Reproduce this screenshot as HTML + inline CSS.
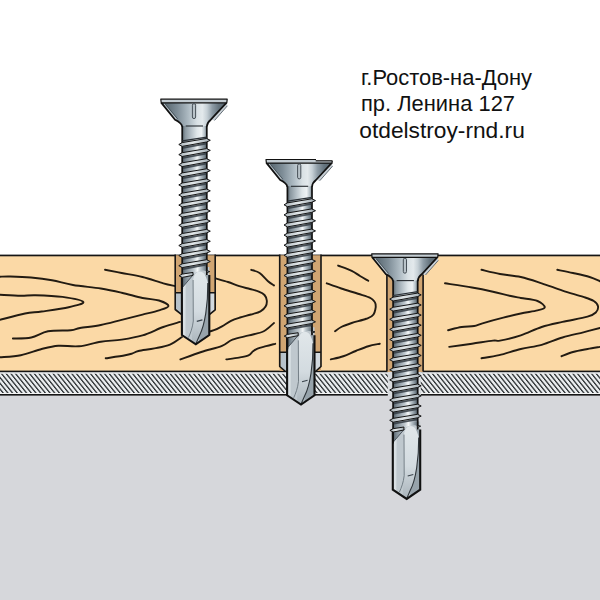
<!DOCTYPE html>
<html><head><meta charset="utf-8"><style>html,body{margin:0;padding:0;background:#fff;overflow:hidden}svg{display:block}</style></head>
<body>
<svg width="600" height="600" viewBox="0 0 600 600">
<defs>
<linearGradient id="core" x1="0" x2="1" y1="0" y2="0">
<stop offset="0" stop-color="#525e67"/><stop offset="0.15" stop-color="#7f8c95"/><stop offset="0.47" stop-color="#c0c9cf"/><stop offset="0.61" stop-color="#f4f7f8"/><stop offset="0.73" stop-color="#bcc6cc"/><stop offset="0.9" stop-color="#78858e"/><stop offset="1" stop-color="#525e67"/>
</linearGradient>
<linearGradient id="shank" x1="0" x2="1" y1="0" y2="0">
<stop offset="0" stop-color="#56636c"/><stop offset="0.12" stop-color="#8a979f"/><stop offset="0.35" stop-color="#b3bec5"/><stop offset="0.6" stop-color="#dfe6e9"/><stop offset="0.78" stop-color="#eef2f4"/><stop offset="0.9" stop-color="#b9c4ca"/><stop offset="1" stop-color="#7c8992"/>
</linearGradient>
<linearGradient id="thr" x1="0" x2="1" y1="0" y2="0">
<stop offset="0" stop-color="#aab4ba"/><stop offset="0.45" stop-color="#e3e8ea"/><stop offset="1" stop-color="#a2adb4"/>
</linearGradient>
<linearGradient id="tongue" x1="0" x2="0" y1="0" y2="1">
<stop offset="0" stop-color="#e1e7ea"/><stop offset="0.55" stop-color="#d3dbe0"/><stop offset="1" stop-color="#aab4bb"/>
</linearGradient>
<linearGradient id="drill" x1="0" x2="1" y1="0" y2="0">
<stop offset="0" stop-color="#b7c1c7"/><stop offset="0.12" stop-color="#d3dadf"/><stop offset="0.3" stop-color="#a7b2b9"/><stop offset="0.55" stop-color="#b9c3c9"/><stop offset="0.85" stop-color="#97a3ab"/><stop offset="1" stop-color="#7d8992"/>
</linearGradient>
<linearGradient id="cone" x1="0" x2="1" y1="0" y2="0">
<stop offset="0" stop-color="#4f5d67"/><stop offset="0.1" stop-color="#617079"/><stop offset="0.25" stop-color="#7f8e98"/><stop offset="0.42" stop-color="#aebbc3"/><stop offset="0.55" stop-color="#d9e1e5"/><stop offset="0.63" stop-color="#e3e9ec"/><stop offset="0.7" stop-color="#c6d0d6"/><stop offset="0.78" stop-color="#8f9da7"/><stop offset="0.88" stop-color="#66757f"/><stop offset="1" stop-color="#56646e"/>
</linearGradient>
<linearGradient id="holegray" x1="0" x2="1" y1="0" y2="0">
<stop offset="0" stop-color="#b5c0c8"/><stop offset="1" stop-color="#d4dbe0"/>
</linearGradient>
<pattern id="hatch" width="4.683" height="10" patternUnits="userSpaceOnUse" patternTransform="translate(2.52,0) skewX(39)">
<rect width="4.683" height="10" fill="#e9ecee"/><rect x="0" width="1.65" height="10" fill="#2b2f32"/>
</pattern>
<g id="screw">
<path d="M-12.1 168 L-12.1 236 L1.8 245.3 L15.3 236 L15.3 168 Z" fill="#bfc8ce"/>
<path d="M-11.5 186 L-8.3 182.5 L-8.6 238.6 L-11.5 236.5 Z" fill="#d8dfe3"/>
<path d="M11 176 L15.3 176 L15.3 236 L5 242.8 Z" fill="#97a3ab"/>
<path d="M-0.9 224 C-1 205 -1.2 190 -0.9 182 C-0.6 176 2.3 172.4 5.6 172.4 C9.5 172.4 12.2 176 13.8 184 C14 205 11 226 5.5 236.5 L1.8 245 L-1.5 243 C-3 238 -1 232 -0.9 224 Z" fill="url(#tongue)"/>
<path d="M-12.1 168 L13.5 168 L13.5 173 C10 171 7.5 171.5 5.6 172.4 C2.3 172.4 0.5 174 -0.5 176 L-12.1 189 Z" fill="url(#core)"/>
<path d="M-11.5 188.4 L-0.6 175.5" fill="none" stroke="#4b555d" stroke-width="1"/>
<path d="M13.8 184 C14 205 11 226 5.5 236.5 L1.8 245" fill="none" stroke="#2e353a" stroke-width="1.1"/>
<path d="M-0.9 181 L-0.7 222 C-1.5 229 -3.5 234 -5.5 238.5" fill="none" stroke="#6a757d" stroke-width="0.9"/>
<path d="M2.8 222.4 L8.4 220.9" stroke="#39424a" stroke-width="1.1"/>
<path d="M-12.1 176 L-12.1 236 L1.8 245.3 L15.3 236 L15.3 176" fill="none" stroke="#111" stroke-width="2.1" stroke-linejoin="miter"/>
<path d="M-11.8 22 L12.8 22 L12.8 168 L-11.8 168 Z" fill="url(#core)"/>
<path d="M-11.8 22 L12.8 22 L12.8 38.3 L-11.8 41.7 Z" fill="url(#shank)"/>
<path d="M-11.8 22 L-11.8 190 M12.8 22 L12.8 176" stroke="#111" stroke-width="1.7"/>
<path d="M-11 48.8 L12.3 44.5" stroke="#333b42" stroke-width="1.8" opacity="0.85"/>
<path d="M-15.2 45.5 L-11.8 43.6 L12.6 39.5 L16.3 41.3 L12.6 43 L-11.8 47.4 Z" fill="url(#thr)" stroke="#151515" stroke-width="1" stroke-linejoin="round"/>
<path d="M-11 58.9 L12.3 54.6" stroke="#333b42" stroke-width="1.8" opacity="0.85"/>
<path d="M-15.2 55.6 L-11.8 53.7 L12.6 49.6 L16.3 51.4 L12.6 53.1 L-11.8 57.5 Z" fill="url(#thr)" stroke="#151515" stroke-width="1" stroke-linejoin="round"/>
<path d="M-11 69 L12.3 64.7" stroke="#333b42" stroke-width="1.8" opacity="0.85"/>
<path d="M-15.2 65.7 L-11.8 63.8 L12.6 59.7 L16.3 61.5 L12.6 63.2 L-11.8 67.6 Z" fill="url(#thr)" stroke="#151515" stroke-width="1" stroke-linejoin="round"/>
<path d="M-11 79.1 L12.3 74.8" stroke="#333b42" stroke-width="1.8" opacity="0.85"/>
<path d="M-15.2 75.8 L-11.8 73.9 L12.6 69.8 L16.3 71.6 L12.6 73.3 L-11.8 77.7 Z" fill="url(#thr)" stroke="#151515" stroke-width="1" stroke-linejoin="round"/>
<path d="M-11 89.2 L12.3 84.9" stroke="#333b42" stroke-width="1.8" opacity="0.85"/>
<path d="M-15.2 85.9 L-11.8 84 L12.6 79.9 L16.3 81.7 L12.6 83.4 L-11.8 87.8 Z" fill="url(#thr)" stroke="#151515" stroke-width="1" stroke-linejoin="round"/>
<path d="M-11 99.3 L12.3 95" stroke="#333b42" stroke-width="1.8" opacity="0.85"/>
<path d="M-15.2 96 L-11.8 94.1 L12.6 90 L16.3 91.8 L12.6 93.5 L-11.8 97.9 Z" fill="url(#thr)" stroke="#151515" stroke-width="1" stroke-linejoin="round"/>
<path d="M-11 109.4 L12.3 105.1" stroke="#333b42" stroke-width="1.8" opacity="0.85"/>
<path d="M-15.2 106.1 L-11.8 104.2 L12.6 100.1 L16.3 101.9 L12.6 103.6 L-11.8 108 Z" fill="url(#thr)" stroke="#151515" stroke-width="1" stroke-linejoin="round"/>
<path d="M-11 119.5 L12.3 115.2" stroke="#333b42" stroke-width="1.8" opacity="0.85"/>
<path d="M-15.2 116.2 L-11.8 114.3 L12.6 110.2 L16.3 112 L12.6 113.7 L-11.8 118.1 Z" fill="url(#thr)" stroke="#151515" stroke-width="1" stroke-linejoin="round"/>
<path d="M-11 129.6 L12.3 125.3" stroke="#333b42" stroke-width="1.8" opacity="0.85"/>
<path d="M-15.2 126.3 L-11.8 124.4 L12.6 120.3 L16.3 122.1 L12.6 123.8 L-11.8 128.2 Z" fill="url(#thr)" stroke="#151515" stroke-width="1" stroke-linejoin="round"/>
<path d="M-11 139.7 L12.3 135.4" stroke="#333b42" stroke-width="1.8" opacity="0.85"/>
<path d="M-15.2 136.4 L-11.8 134.5 L12.6 130.4 L16.3 132.2 L12.6 133.9 L-11.8 138.3 Z" fill="url(#thr)" stroke="#151515" stroke-width="1" stroke-linejoin="round"/>
<path d="M-11 149.8 L12.3 145.5" stroke="#333b42" stroke-width="1.8" opacity="0.85"/>
<path d="M-15.2 146.5 L-11.8 144.6 L12.6 140.5 L16.3 142.3 L12.6 144 L-11.8 148.4 Z" fill="url(#thr)" stroke="#151515" stroke-width="1" stroke-linejoin="round"/>
<path d="M-11 159.9 L12.3 155.6" stroke="#333b42" stroke-width="1.8" opacity="0.85"/>
<path d="M-15.2 156.6 L-11.8 154.7 L12.6 150.6 L16.3 152.4 L12.6 154.1 L-11.8 158.5 Z" fill="url(#thr)" stroke="#151515" stroke-width="1" stroke-linejoin="round"/>
<path d="M-11 170 L12.3 165.7" stroke="#333b42" stroke-width="1.8" opacity="0.85"/>
<path d="M-15.2 166.7 L-11.8 164.8 L12.6 160.7 L16.3 162.5 L12.6 164.2 L-11.8 168.6 Z" fill="url(#thr)" stroke="#151515" stroke-width="1" stroke-linejoin="round"/>
<path d="M-15 176.8 L-11.8 175.1 L-1 173.4 L-1 176.4 L-11.8 178.4 Z" fill="url(#thr)" stroke="#151515" stroke-width="1" stroke-linejoin="round"/>
<path d="M12.5 171.6 L15.8 172.6 L12.5 173.8 Z" fill="#8a959c" stroke="#151515" stroke-width="0.9"/>
<path d="M-32.8 3.6 L32.6 3.6 L16.8 20.7 Q13.2 23.4 12.8 27 L-11.8 27 Q-12.6 23.6 -19 20.7 Z" fill="url(#cone)"/>
<path d="M32.6 3.6 L33.4 6.8 L20.6 21.4 L17 20.6 Z" fill="#c9d1d7"/>
<path d="M33.4 6.8 L20.6 21.4" fill="none" stroke="#59636b" stroke-width="0.9"/>
<path d="M-30.2 5 L-17.6 20.2" fill="none" stroke="#b9c4cb" stroke-width="1.4"/>
<path d="M-28.7 5.2 L-16.4 19.8" fill="none" stroke="#3f4a52" stroke-width="0.8"/>
<path d="M-32.8 3.6 L-19 20.7 Q-12.6 23.6 -11.8 27.5 M32.6 3.6 L16.8 20.7 Q13.2 23.4 12.8 27.5" fill="none" stroke="#111" stroke-width="1.7" stroke-linejoin="round"/>
<path d="M-11.8 41.9 L12.8 38.1" stroke="#2a3036" stroke-width="1.2"/>
<path d="M-33.2 0.2 L33.2 0.2 L32.8 3.8 L-32.8 3.8 Z" fill="#c3ccd2" stroke="#111" stroke-width="1.2" stroke-linejoin="round"/>
<rect x="-1.6" y="4.6" width="3.2" height="15" rx="1.6" fill="#b9c3c9" stroke="#39424a" stroke-width="0.9"/>
<path d="M-8.3 27 L9 27" stroke="#262b30" stroke-width="1.1"/>
</g>
</defs>
<rect width="600" height="600" fill="#fff"/>
<rect x="0" y="395" width="600" height="205" fill="#d6d7db"/>
<rect x="0" y="372" width="600" height="21.5" fill="url(#hatch)"/>
<rect x="0" y="372" width="600" height="1.8" fill="#e9ecee"/>
<rect x="0" y="393" width="600" height="1" fill="#f4f4f4"/>
<rect x="0" y="394" width="600" height="1.6" fill="#151515"/>
<rect x="0" y="255" width="600" height="116" fill="#fbd9a6"/>
<g fill="none" stroke="#221b12" stroke-width="1.9" stroke-linecap="round" stroke-linejoin="round">
<path d="M0 276.7 C1.73 276.67 5.23 276.37 10.4 276.5 C15.57 276.63 24.07 276.88 31 277.5 C37.93 278.12 45 278.95 52 280.2 C59 281.45 64.87 283.62 73 285 C81.13 286.38 92.68 287.22 100.8 288.5 C108.92 289.78 114.75 291.12 121.7 292.7 C128.65 294.28 136.28 296.7 142.5 298 C148.72 299.3 154.67 299.17 159 300.5 C163.33 301.83 168.5 304.35 168.5 306 C168.5 307.65 163.33 308.97 159 310.4 C154.67 311.83 148.72 313.03 142.5 314.6 C136.28 316.17 128.65 318.07 121.7 319.8 C114.75 321.53 107.75 323.63 100.8 325 C93.85 326.37 85 327.13 80 328 C75 328.87 76.13 329.66 70.8 330.2 C65.47 330.74 54.59 330.03 48 331.25 C41.41 332.47 37.1 336.29 31.25 337.5 C25.4 338.71 15.96 338.33 12.9 338.5"/>
<path d="M0 294.8 C3.47 294.97 14.9 295.73 20.8 295.8 C26.7 295.87 28.45 295.02 35.4 295.2 C42.35 295.38 54.52 295.77 62.5 296.9 C70.48 298.03 82.26 300.27 83.3 302 C84.34 303.73 75.68 305.72 68.75 307.3 C61.82 308.88 48.99 310.47 41.7 311.5 C34.41 312.53 31.95 312.12 25 313.5 C18.05 314.88 4.17 318.75 0 319.8"/>
<path d="M0 357.3 C3.47 356.95 13.85 356.58 20.8 355.2 C27.75 353.82 35.45 350.57 41.7 349 C47.95 347.43 52.08 346.26 58.3 345.8 C64.52 345.34 71.92 346.93 79 346.25 C86.08 345.57 93.68 342.81 100.8 341.7 C107.92 340.59 114.75 340.65 121.7 339.6 C128.65 338.55 135.57 337.5 142.5 335.4 C149.43 333.3 157.05 329.25 163.3 327 C169.55 324.75 177.22 322.75 180 321.9"/>
<path d="M105.7 358.3 C108.95 357.8 120.73 356.12 125.2 355.3 C129.67 354.48 130.28 354.12 132.5 353.4 C134.72 352.68 134.85 351.83 138.5 351 C142.15 350.17 149.15 349.47 154.4 348.4 C159.65 347.33 165.4 346.5 170 344.6 C174.6 342.7 180 338.27 182 337"/>
<path d="M105 269.8 C107.78 270.33 115.45 271.8 121.7 273 C127.95 274.2 135.57 275.28 142.5 277 C149.43 278.72 157.88 281.8 163.3 283.3 C168.72 284.8 173.05 285.55 175 286"/>
<path d="M215.5 278.4 C217.58 279 224.03 280.7 228 282 C231.97 283.3 235.63 285.03 239.3 286.2 C242.97 287.37 246.75 288.1 250 289 C253.25 289.9 256.38 290.6 258.8 291.6 C261.22 292.6 263.17 293.52 264.5 295 C265.83 296.48 266.62 298.58 266.8 300.5 C266.98 302.42 266.65 304.7 265.6 306.5 C264.55 308.3 262.93 309.97 260.5 311.3 C258.07 312.63 254.42 313.47 251 314.5 C247.58 315.53 243.33 316.45 240 317.5 C236.67 318.55 234 319.33 231 320.8 C228 322.27 224.83 324.73 222 326.3 C219.17 327.87 216.67 329.17 214 330.2 C211.33 331.23 207.33 332.12 206 332.5"/>
<path d="M251.25 269.8 C252.64 270.33 256.81 271.09 259.6 273 C262.39 274.91 265.6 279.18 268 281.25 C270.4 283.32 273 284.71 274 285.4"/>
<path d="M180.4 359.4 C183.88 358.17 194.32 354.27 201.25 352 C208.18 349.73 216.79 347.87 222 345.8 C227.21 343.73 228 341.33 232.5 339.6 C237 337.87 243.79 336.79 249 335.4 C254.21 334.01 259.58 333.32 263.75 331.25 C267.92 329.18 272.29 324.38 274 323"/>
<path d="M226.3 359.4 C228.42 359.1 235.3 358.28 239 357.6 C242.7 356.92 246.17 356.35 248.5 355.3 C250.83 354.25 251.5 352.42 253 351.3 C254.5 350.18 255.33 349.45 257.5 348.6 C259.67 347.75 263.05 347 266 346.2 C268.95 345.4 273.67 344.2 275.2 343.8"/>
<path d="M338.1 265.6 C340.37 266.47 348.05 269.07 351.7 270.8 C355.35 272.53 357.23 274.33 360 276 C362.77 277.67 366.92 280 368.3 280.8"/>
<path d="M326.7 283.3 C329.12 284.17 336.03 286.76 341.25 288.5 C346.47 290.24 353.14 292.17 358 293.75 C362.86 295.33 367.47 296.26 370.4 298 C373.33 299.74 375.08 301.43 375.6 304.2 C376.12 306.97 375.06 312.18 373.5 314.6 C371.94 317.03 369.88 317.35 366.25 318.75 C362.62 320.15 355.87 321.62 351.7 323 C347.53 324.38 344.03 325.62 341.25 327 C338.47 328.38 336.04 330.54 335 331.25"/>
<path d="M330.8 359.4 C332.88 358.88 339.13 357.65 343.3 356.25 C347.47 354.85 351.63 352.67 355.8 351 C359.97 349.33 364.3 347.46 368.3 346.25 C372.3 345.04 377.88 344.17 379.8 343.75"/>
<path d="M481.5 269.8 C484.58 270.5 493.45 272.8 500 274 C506.55 275.2 513.85 275.45 520.8 277 C527.75 278.55 534.75 281.03 541.7 283.3 C548.65 285.57 555.57 288.33 562.5 290.6 C569.43 292.87 578.09 295.17 583.3 296.9 C588.51 298.63 591.3 299.44 593.75 301 C596.2 302.56 597.66 304.33 598 306.25 C598.34 308.17 597.55 310.76 595.8 312.5 C594.05 314.24 593.05 315.13 587.5 316.7 C581.95 318.27 570.13 320.18 562.5 321.9 C554.87 323.62 548.65 324.75 541.7 327 C534.75 329.25 527.75 333.13 520.8 335.4 C513.85 337.67 504.63 339.73 500 340.6 C495.37 341.47 497.67 340.08 493 340.6 C488.33 341.12 479.3 342.7 472 343.75 C464.7 344.8 453 346.38 449.2 346.9"/>
<path d="M445 283.3 C449.5 284 464 286.1 472 287.5 C480 288.9 486.73 290.32 493 291.7 C499.27 293.08 504.97 294.75 509.6 295.8 C514.23 296.85 516.15 297.13 520.8 298 C525.45 298.87 533.5 299.45 537.5 301 C541.5 302.55 544.8 305.73 544.8 307.3 C544.8 308.87 541.5 309.37 537.5 310.4 C533.5 311.43 526.5 312.28 520.8 313.5 C515.1 314.72 509.68 316.07 503.3 317.7 C496.92 319.33 487.35 321.92 482.5 323.3 C477.65 324.68 477.67 325.38 474.2 326 C470.73 326.62 466.05 326.3 461.7 327 C457.35 327.7 450.37 329.67 448.1 330.2"/>
<path d="M481.5 358.3 C484.45 357.78 492.65 356.75 499.2 355.2 C505.75 353.65 513.72 350.73 520.8 349 C527.88 347.27 534.75 346.72 541.7 344.8 C548.65 342.88 555.57 339.58 562.5 337.5 C569.43 335.42 577.05 333.88 583.3 332.3 C589.55 330.72 597.22 328.72 600 328"/>
<path d="M557.3 269.8 C559.92 270.33 567.62 271.8 573 273 C578.38 274.2 585.1 275.62 589.6 277 C594.1 278.38 598.27 280.54 600 281.25"/>
<path d="M561.5 356.25 C563.42 355.54 568.67 353.21 573 352 C577.33 350.79 583 349.85 587.5 349 C592 348.15 597.92 347.25 600 346.9"/>
</g>
<rect x="0" y="254.6" width="600" height="1.7" fill="#151515"/>
<rect x="0" y="370.6" width="600" height="1.6" fill="#151515"/>
<!-- holes -->
<path d="M175.2 255.3 L175.2 309.5 L182 314.8 L209 314.8 L215.2 309.8 L215.2 255.3 Z" fill="#d0a572"/>
<path d="M176 292.8 L176 309.2 L182 314 L209 314 L214.4 309.5 L214.4 292.8 Z" fill="url(#holegray)"/>
<path d="M279.7 255.3 L279.7 371 L321 371 L321 255.3 Z" fill="#d0a572"/>
<path d="M280.5 352.3 L280.5 366.5 L286 371 L315 371 L320.2 366.5 L320.2 352.3 Z" fill="url(#holegray)"/>
<path d="M386.9 255.3 L386.9 372 L423.1 372 L423.1 255.3 Z" fill="#d0a572"/>
<g stroke="#151515" stroke-width="1.6" fill="none" stroke-linejoin="round">
<path d="M175.2 254.6 L175.2 309.5 L182 314.8 M215.2 254.6 L215.2 309.8 L209 314.9"/>
<path d="M175.2 292.8 L215.2 292.8" />
<path d="M279.7 254.6 L279.7 366.5 L285.5 371.5 M321 254.6 L321 366.5 L315.5 371.5"/>
<path d="M279.7 352.3 L321 352.3" />
<path d="M386.9 254.6 L386.9 371.4 M423.1 254.6 L423.1 371.4"/>
</g>
<!-- hatch gaps near screw 3 -->
<rect x="387.8" y="372" width="33" height="24" fill="#d9dcdf"/>
<use href="#screw" x="194.0" y="99.0"/>
<use href="#screw" x="299.2" y="159.3"/>
<rect x="316" y="157.3" width="19" height="3.5" fill="#fff"/>
<path d="M315.7 160.8 L332.4 160.8" stroke="#151515" stroke-width="1.2"/>
<use href="#screw" x="404.9" y="253.6"/>
<g font-family="'Liberation Sans', sans-serif" font-size="21.5" fill="#111">
<text x="361" y="85" textLength="171" lengthAdjust="spacingAndGlyphs">г.Ростов-на-Дону</text>
<text x="361" y="110.8" textLength="154" lengthAdjust="spacingAndGlyphs">пр. Ленина 127</text>
<text x="359.3" y="138.3" textLength="165.5" lengthAdjust="spacingAndGlyphs">otdelstroy-rnd.ru</text>
</g>
</svg>
</body></html>
